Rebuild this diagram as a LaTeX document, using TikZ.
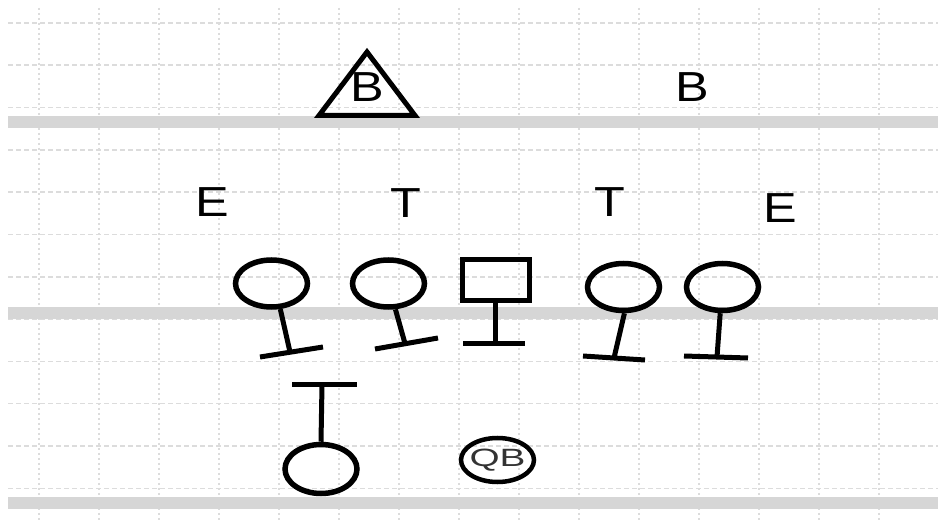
\documentclass[tikz,border=0pt]{standalone}
\usepackage{fontspec}
\setmainfont{Liberation Sans}
\usepackage{tikz}
\usetikzlibrary{shapes.geometric}
\usepackage{xcolor}
\definecolor{gridgray}{HTML}{DCDCDC}
\definecolor{fieldgray}{HTML}{D6D6D6}

\begin{document}
\begin{tikzpicture}[x=1pt,y=-1pt,line cap=butt,
  letter/.style={font=\fontsize{42}{42}\selectfont,xscale=1.2,inner sep=0pt},
  player/.style={draw,ellipse,line width=5.5pt,minimum width=72pt,minimum height=47pt,inner sep=0pt},
  center/.style={draw,rectangle,line width=5.5pt,minimum width=67pt,minimum height=41pt,inner sep=0pt},
  stem/.style={line width=5pt}]
\useasboundingbox (0,0) rectangle (938,521);
\fill[white] (0,0) rectangle (938,521);
\foreach \gx in {0,...,14}
  \draw[gridgray,line width=1.6pt,dash pattern=on 1.6pt off 3.4pt] ({39+60*\gx},8) -- ({39+60*\gx},521);
\foreach \gy in {0,...,11}
  \draw[gridgray,line width=1.6pt,dash pattern=on 5pt off 3pt] (8,{23+42.3*\gy}) -- (938,{23+42.3*\gy});
\draw[fieldgray,line width=12pt] (8,122) -- (938,122);
\draw[fieldgray,line width=12pt] (8,313) -- (938,313);
\draw[fieldgray,line width=12pt] (8,503) -- (938,503);

\node[letter] (bl) at (367,87) {B};
\draw[line width=5pt,line join=miter] (367,52) -- (319,115.5) -- (415,115.5) -- cycle;
\node[letter] (br) at (692,87) {B};
\node[letter] (el) at (212,202) {E};
\node[letter] (tl) at (406,203) {T};
\node[letter] (tr) at (610,202) {T};
\node[letter] (er) at (780,208) {E};

\node[player] (lg) at (271.5,283.5) {};
\coordinate (lgk) at (290,352);
\coordinate (lga) at (260,357);
\coordinate (lgb) at (323,347);
\draw[stem] (lg.-71) -- (lgk);
\draw[stem] (lga) -- (lgb);

\node[player] (lt) at (388.5,283.5) {};
\coordinate (ltk) at (405,343.5);
\coordinate (lta) at (375,349);
\coordinate (ltb) at (438,338);
\draw[stem] (lt.-75) -- (ltk);
\draw[stem] (lta) -- (ltb);

\node[center] (cn) at (496,280) {};
\coordinate (cnk) at (495,344);
\coordinate (cna) at (463,344);
\coordinate (cnb) at (525,344);
\draw[stem] (cn.south -| cnk) -- (cnk);
\draw[stem] (cna) -- (cnb);

\node[player] (rt) at (623.5,287) {};
\coordinate (rtk) at (614,358);
\coordinate (rta) at (583,356);
\coordinate (rtb) at (645,360);
\draw[stem] (rt.-88) -- (rtk);
\draw[stem] (rta) -- (rtb);

\node[player] (rg) at (722.5,287) {};
\coordinate (rgk) at (717,357);
\coordinate (rga) at (684,356);
\coordinate (rgb) at (748,358);
\draw[stem] (rg.-95) -- (rgk);
\draw[stem] (rga) -- (rgb);

\node[player,minimum height=49pt] (rb) at (321,469) {};
\coordinate (rbk) at (322,385);
\coordinate (rba) at (292,385);
\coordinate (rbb) at (357,385);
\draw[stem] (rb.north) -- (rbk);
\draw[stem] (rba) -- (rbb);

\node[player,line width=4.5pt,minimum width=73pt,minimum height=44pt] (qb) at (497.5,460) {};
\node[font=\fontsize{25}{25}\selectfont,xscale=1.55,inner sep=0pt,text=black!80] (qbt) at (qb.center) {QB};
\end{tikzpicture}
\end{document}
